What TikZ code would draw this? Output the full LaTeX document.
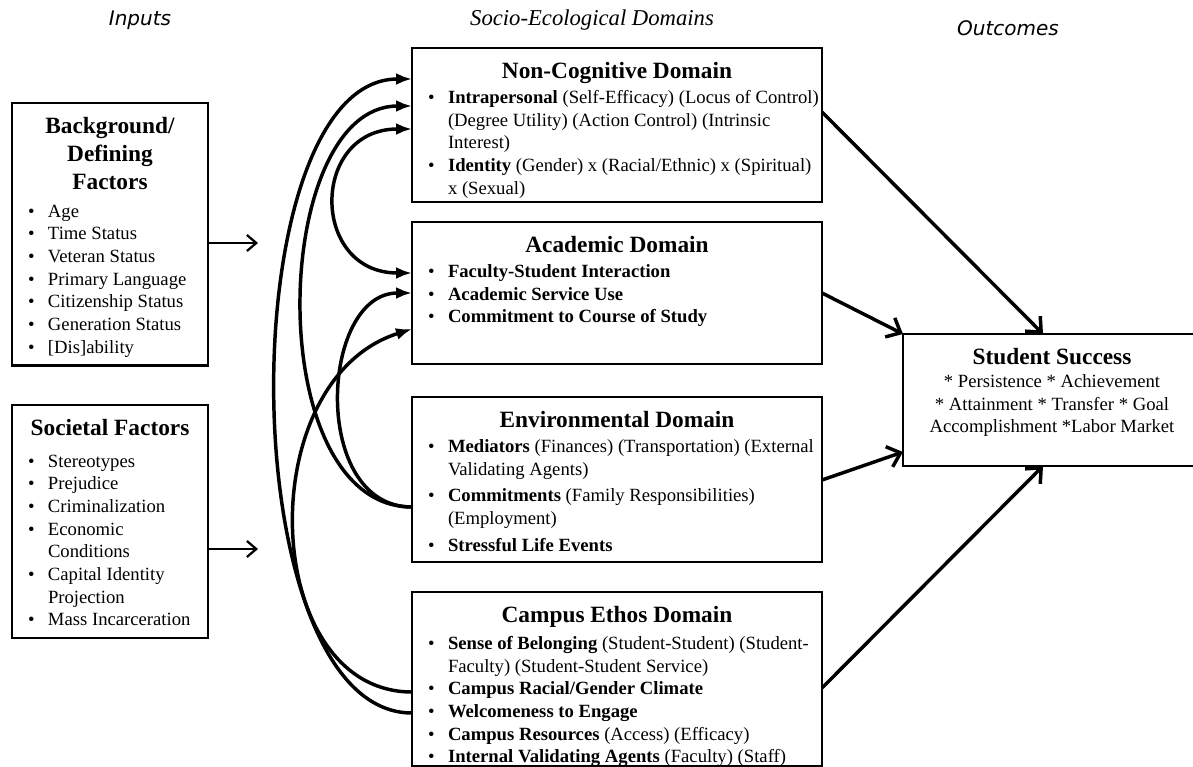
\documentclass[tikz,border=0pt]{standalone}
\usepackage{fontspec}
\setmainfont{Liberation Serif}
\newfontfamily\headsans{DejaVu Sans}
\usepackage{xcolor}
\usepackage{tikz}
\usetikzlibrary{arrows.meta}

% bullet line with hanging indent
\newcommand{\itm}[1][0pt]{\par\vspace{#1}\hangindent=19pt\hangafter=1\noindent\hspace*{4pt}\makebox[15pt][l]{\textbullet}}
% bold centred heading, then body font
\newcommand{\boxhead}[2]{{\centering\fontsize{17.5}{21}\selectfont\bfseries #1\par}\vspace{#2}\fontsize{14}{17}\selectfont\rightskip=-12pt plus 1fil\relax}

\begin{document}
\begin{tikzpicture}[x=0.75pt, y=-0.75pt,
    factorbox/.style={draw, line width=2.1pt, anchor=north west, inner xsep=8pt, inner ysep=11pt, outer sep=0pt},
    header/.style={font=\headsans\itshape\fontsize{15}{18}\selectfont},
    feedback/.style={line width=2.6pt, -{Latex[length=12pt,width=9pt]}},
    inarrow/.style={line width=1.7pt, -{Straight Barb[length=7pt,width=12pt]}},
    outarrow/.style={line width=2.6pt, -{Straight Barb[length=9pt,width=16pt]}}
]
\useasboundingbox (0,0) rectangle (1193,767);

% column headings
\node[header] (inputs) at (140,20) {Inputs};
\node[font=\itshape\fontsize{17}{20}\selectfont] (domains) at (592,20) {Socio-Ecological Domains};
\node[header] (outcomes) at (1008,28) {Outcomes};

% inputs
\node[factorbox] (background) at (12,103) {\parbox[t][175pt][t]{131pt}{%
    \boxhead{Background/\\Defining\\Factors}{3.5pt}%
    \itm Age
    \itm Time Status
    \itm Veteran Status
    \itm Primary Language
    \itm Citizenship Status
    \itm Generation Status
    \itm {[}Dis]ability}};

\node[factorbox] (societal) at (12,405) {\parbox[t][152.75pt][t]{131pt}{%
    \boxhead{Societal Factors}{6.5pt}%
    \itm Stereotypes
    \itm Prejudice
    \itm Criminalization
    \itm Economic\newline Conditions
    \itm Capital Identity\newline Projection
    \itm Mass Incarceration}};

% domains
\node[factorbox] (noncog) at (412,48) {\parbox[t][93.5pt][t]{291.5pt}{%
    \boxhead{Non-Cognitive Domain}{1.4pt}%
    \itm \textbf{Intrapersonal} (Self-Efficacy) (Locus of Control)\newline (Degree Utility) (Action Control) (Intrinsic\newline Interest)
    \itm \textbf{Identity} (Gender) x (Racial/Ethnic) x (Spiritual)\newline x (Sexual)}};

\node[factorbox] (academic) at (412,222) {\parbox[t][84.5pt][t]{291.5pt}{%
    \boxhead{Academic Domain}{1.4pt}%
    \itm \textbf{Faculty-Student Interaction}
    \itm \textbf{Academic Service Use}
    \itm \textbf{Commitment to Course of Study}}};

\node[factorbox] (environ) at (412,397) {\parbox[t][101.75pt][t]{291.5pt}{%
    \boxhead{Environmental Domain}{1.4pt}%
    \itm \textbf{Mediators} (Finances) (Transportation) (External\newline Validating Agents)
    \itm[3pt]\textbf{Commitments} (Family Responsibilities)\newline (Employment)
    \itm[3pt]\textbf{Stressful Life Events}}};

\node[factorbox] (campus) at (412,592) {\parbox[t][108.5pt][t]{291.5pt}{%
    \boxhead{Campus Ethos Domain}{3pt}%
    \itm \textbf{Sense of Belonging} (Student-Student) (Student-\newline Faculty) (Student-Student Service)
    \itm \textbf{Campus Racial/Gender Climate}
    \itm \textbf{Welcomeness to Engage}
    \itm \textbf{Campus Resources} (Access) (Efficacy)
    \itm \textbf{Internal Validating Agents} (Faculty) (Staff)}};

% outcome
\node[factorbox] (success) at (903,334) {\parbox[t][77pt][t]{207.5pt}{\centering
    {\fontsize{17.5}{21}\selectfont\bfseries Student Success\par}%
    \fontsize{14}{17}\selectfont * Persistence * Achievement\\{}* Attainment * Transfer * Goal\\Accomplishment *Labor Market}};

% inputs feed the domains
\coordinate (bgtip) at (258,243);
\coordinate (soctip) at (258,549);
\draw[inarrow] (background.east |- bgtip) -- (bgtip);
\draw[inarrow] (societal.east |- soctip) -- (soctip);

% links between the domains
\draw[feedback] (campus.west |- 0,713) .. controls (230,713) and (230,79) .. (noncog.west |- 0,79);
\draw[feedback] (campus.west |- 0,692) .. controls (260,692) and (250,380) .. (academic.west |- 0,329);
\draw[feedback] (environ.west |- 0,507) .. controls (310,507) and (320,293) .. (academic.west |- 0,293);
\draw[feedback] (environ.west |- 0,507) .. controls (260,507) and (270,106) .. (noncog.west |- 0,106);
\draw[feedback, {Latex[length=12pt,width=9pt]}-{Latex[length=12pt,width=9pt]}] (noncog.west |- 0,129) .. controls (310,129) and (310,273) .. (academic.west |- 0,273);

% domains lead to success
\draw[outarrow] (noncog.east |- 0,112) -- (1043,0 |- success.north);
\draw[outarrow] (academic.east |- 0,293) -- (success.north west);
\draw[outarrow] (environ.east |- 0,480) -- (success.west |- 0,452);
\draw[outarrow] (campus.east |- 0,688) -- (1043,0 |- success.south);
\end{tikzpicture}
\end{document}
